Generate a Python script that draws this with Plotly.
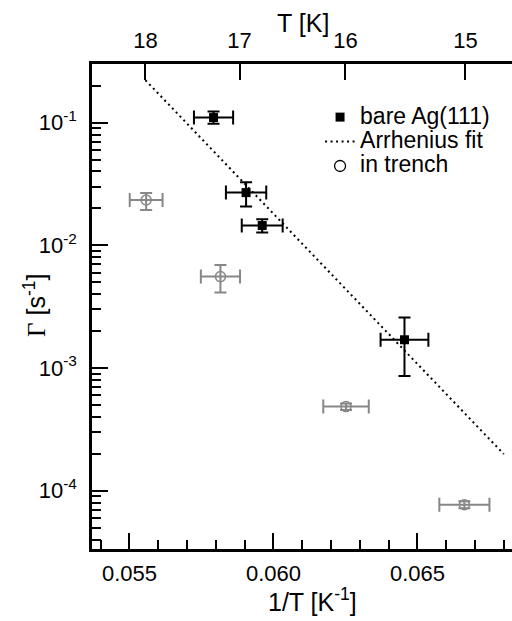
import numpy as np
import plotly.graph_objects as go

# ---- data ----
inv_T_bare = [0.05792, 0.05905, 0.05961, 0.06455]          # 1/T [1/K]
inv_T_bare_err = [0.00068, 0.00070, 0.00071, 0.00083]
rate_bare = [0.110, 0.0269, 0.0145, 0.00170]               # Gamma [1/s]
rate_bare_err_plus = [0.0135, 0.0058, 0.0018, 0.00088]
rate_bare_err_minus = [0.0120, 0.0062, 0.0018, 0.00084]

inv_T_trench = [0.05558, 0.05816, 0.06252, 0.06663]
inv_T_trench_err = [0.00057, 0.00068, 0.00079, 0.00087]
rate_trench = [0.0234, 0.00556, 0.000485, 7.7e-5]
rate_trench_err_plus = [0.0033, 0.00136, 0.00003, 5e-6]
rate_trench_err_minus = [0.0040, 0.00144, 0.00003, 5e-6]

# Arrhenius fit parameters
fit_prefactor = 9.0e12        # s^-1
fit_energy_meV = 48.6         # meV
fit_inv_T_span = [1 / 18, 0.068]

x_major = [0.055, 0.060, 0.065]
x_major_labels = ["0.055", "0.060", "0.065"]
x_minor = [0.054, 0.056, 0.057, 0.058, 0.059, 0.061, 0.062, 0.063, 0.064,
           0.066, 0.067, 0.068]
T_ticks = [18, 17, 16, 15]
y_major = [1e-4, 1e-3, 1e-2, 1e-1]
y_major_labels = ["10<sup>-4</sup>", "10<sup>-3</sup>", "10<sup>-2</sup>", "10<sup>-1</sup>"]
y_minor = [k * 10.0 ** d for d in range(-5, 0) for k in range(2, 10)]

legend_names = ["bare Ag(111)", "Arrhenius fit", "in trench"]

# ---- figure ----
kB = 8.617e-5  # eV/K
fit_x = np.linspace(fit_inv_T_span[0], fit_inv_T_span[1], 50)
fit_y = fit_prefactor * np.exp(-fit_energy_meV * 1e-3 / kB * fit_x)

GRAY = "#878787"
FONT = "Liberation Sans, Arial, sans-serif"
xr = [0.0537, 0.0537 + 420 / 28800]
yr = [-4.475, -0.522]


def big(s):
    return f"<span style='font-size:23px'>{s}</span>"


fig = go.Figure()
fig.add_trace(go.Scatter(
    x=inv_T_bare, y=rate_bare, mode="markers", name=big(legend_names[0]),
    marker=dict(symbol="square", size=9, color="black"),
    error_y=dict(type="data", symmetric=False, array=rate_bare_err_plus,
                 arrayminus=rate_bare_err_minus, color="black", thickness=2, width=6),
    error_x=dict(type="data", array=inv_T_bare_err, color="black", thickness=2, width=7),
))
fig.add_trace(go.Scatter(
    x=fit_x, y=fit_y, mode="lines", name=big(legend_names[1]),
    line=dict(color="black", width=2, dash="2px,3.5px"),
))
fig.add_trace(go.Scatter(
    x=inv_T_trench, y=rate_trench, mode="markers", name=legend_names[2], showlegend=False,
    marker=dict(symbol="circle-open", size=10, color=GRAY, line=dict(width=1.5, color=GRAY)),
    error_y=dict(type="data", symmetric=False, array=rate_trench_err_plus,
                 arrayminus=rate_trench_err_minus, color=GRAY, thickness=2, width=6),
    error_x=dict(type="data", array=inv_T_trench_err, color=GRAY, thickness=2, width=7),
))
fig.add_trace(go.Scatter(
    x=[None], y=[None], mode="markers", name=big(legend_names[2]),
    marker=dict(symbol="circle-open", size=11, color="black", line=dict(width=1.3, color="black")),
))
fig.add_trace(go.Scatter(x=[None], y=[None], xaxis="x2", showlegend=False, hoverinfo="skip"))

axis_common = dict(showline=True, linewidth=2.5, linecolor="black", ticks="inside",
                   ticklen=16, tickwidth=2, tickcolor="black", showgrid=False,
                   zeroline=False, tickfont=dict(family=FONT, size=22, color="black"))

fig.update_layout(
    width=512, height=621,
    margin=dict(l=92, r=0, t=64, b=72),
    paper_bgcolor="white", plot_bgcolor="white",
    font=dict(family=FONT, color="black"),
    showlegend=True,
    legend=dict(x=0.543, y=0.926, xanchor="left", yanchor="top",
                bgcolor="rgba(0,0,0,0)", font=dict(family=FONT, size=16.5, color="black"),
                tracegroupgap=0, itemwidth=30),
    xaxis=dict(range=xr, tickmode="array", tickvals=x_major, ticktext=x_major_labels,
               minor=dict(tickmode="array", tickvals=x_minor, ticks="inside", ticklen=9,
                          tickwidth=2, tickcolor="black", showgrid=False),
               ticklabelstandoff=3, **axis_common),
    xaxis2=dict(range=xr, overlaying="x", side="top", anchor="y", tickmode="array",
                tickvals=[1 / t for t in T_ticks], ticktext=[str(t) for t in T_ticks],
                ticklabelstandoff=4, **axis_common),
    yaxis=dict(type="log", range=yr, tickmode="array", tickvals=y_major, ticktext=y_major_labels,
               minor=dict(tickmode="array", tickvals=y_minor, ticks="inside", ticklen=9,
                          tickwidth=2, tickcolor="black", showgrid=False),
               ticklabelstandoff=8, **axis_common),
)

fig.add_annotation(text="1/T [K<sup>-1</sup>]", xref="paper", yref="paper",
                   x=0.524, y=-0.105, showarrow=False, xanchor="center", yanchor="middle",
                   font=dict(family=FONT, size=25, color="black"))
fig.add_annotation(text="T [K]", xref="paper", yref="paper",
                   x=0.502, y=1.084, showarrow=False, xanchor="center", yanchor="middle",
                   font=dict(family=FONT, size=25, color="black"))
fig.add_annotation(text="<span style='font-family:Liberation Serif, Times New Roman, serif;color:black'>Γ</span> [s<sup>-1</sup>]",
                   xref="paper", yref="paper", x=-0.136, y=0.503, textangle=-90,
                   showarrow=False, xanchor="center", yanchor="middle",
                   font=dict(family=FONT, size=25, color="black"))

fig.write_html("out.html")
